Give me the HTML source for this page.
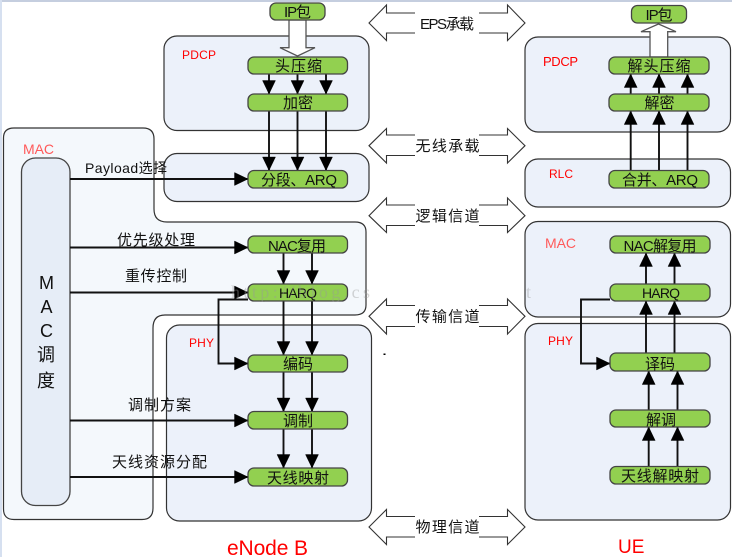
<!DOCTYPE html>
<html><head><meta charset="utf-8">
<style>
html,body{margin:0;padding:0;background:#fff;width:732px;height:557px;overflow:hidden}
svg{display:block}
text{font-family:"Liberation Sans","Noto Sans CJK SC",sans-serif;fill:#111;font-size:15px}
.c{text-anchor:middle}
.r{fill:#f00}
.red2{fill:#ff5a5a}
.panel{fill:#ecf1fa;stroke:#333;stroke-width:1.2}
.g{fill:#92d050;stroke:#444;stroke-width:1.3}
.l{stroke:#111;stroke-width:1.9;fill:none}
.h{fill:#000;stroke:#000;stroke-width:.4}
.da{fill:#fff;stroke:#333;stroke-width:1.1}
.wb{fill:#fff}
.wm{font-size:18px;fill:#999;fill-opacity:.4;font-family:"Liberation Serif",serif}
</style></head><body>
<svg width="732" height="557" viewBox="0 0 732 557" xmlns="http://www.w3.org/2000/svg">
<defs>
<marker id="a" markerUnits="userSpaceOnUse" markerWidth="15" markerHeight="15" refX="14" refY="7" orient="auto"><path class="h" d="M0.5 0.5L14 7L0.5 13.5Z"/></marker>
</defs>
<rect x="0" y="0" width="732" height="2" fill="#c5cedf"/>
<rect x="0" y="0" width="2" height="557" fill="#d6e0f0"/>

<!-- MAC container -->
<path d="M14 128H143Q154 128 154 139V209Q154 222 167 222H355Q366 222 366 232V305Q366 315 355 315H165Q153 315 153 328V508Q153 519.5 142 519.5H14Q3.5 519.5 3.5 509V138Q3.5 128 14 128Z" fill="#f4f8fc" stroke="#333" stroke-width="1.2"/>

<rect class="panel" x="164" y="36" width="205" height="94.5" rx="13"/>
<rect class="panel" x="164" y="153.5" width="205" height="48" rx="13"/>
<rect class="panel" x="166.5" y="325" width="205" height="196" rx="13"/>

<rect x="21.5" y="158" width="48.5" height="347.5" rx="14" fill="#e6edf7" stroke="#444" stroke-width="1.3"/>

<rect class="panel" x="525" y="37" width="205.5" height="95" rx="13"/>
<rect class="panel" x="525" y="159" width="205.5" height="48" rx="13"/>
<rect class="panel" x="525" y="221.5" width="205.5" height="95.5" rx="13"/>
<rect class="panel" x="525" y="323.5" width="205.5" height="196.5" rx="13"/>

<!-- double arrows -->
<path class="da" d="M369 23L386.5 5V13H507.5V5L525 23L507.5 40.5V33H386.5V40.5Z"/>
<path class="da" d="M369 145.7L386.5 128.5V135H507.5V128.5L525 145.7L507.5 163V155.5H386.5V163Z"/>
<path class="da" d="M369 215.7L386.5 198V205H507.5V198L525 215.7L507.5 232.5V225.5H386.5V232.5Z"/>
<path class="da" d="M369 316.3L386.5 299V305.5H507.5V299L525 316.3L507.5 334V326.5H386.5V334Z"/>
<path class="da" d="M369 527L386.5 509.5V516.5H507.5V509.5L525 527L507.5 544.5V537H386.5V544.5Z"/>
<rect class="wb" x="415" y="10" width="64" height="26"/>
<rect class="wb" x="415" y="132" width="64" height="26"/>
<rect class="wb" x="415" y="202" width="64" height="26"/>
<rect class="wb" x="415" y="303" width="64" height="26"/>
<rect class="wb" x="415" y="513" width="64" height="28"/>
<text class="c" x="447" y="29" textLength="54">EPS承载</text>
<text class="c" x="447.5" y="151" textLength="64">无线承载</text>
<text class="c" x="447.5" y="221" textLength="64">逻辑信道</text>
<text class="c" x="447.5" y="321.5" textLength="64">传输信道</text>
<text class="c" x="447.5" y="532" textLength="64">物理信道</text>

<!-- block arrows -->
<path d="M289 20V47.7H280L297.5 56L315 47.7H306V20Z" fill="#fff" stroke="#555" stroke-width="1.3"/>
<path d="M650 57V31.7H641L658.5 24L676 31.7H667.7V57Z" fill="#fff" stroke="#555" stroke-width="1.3"/>

<!-- connectors -->
<g>
<path class="l" marker-end="url(#a)" d="M269 74V94"/>
<path class="l" marker-end="url(#a)" d="M297.5 74V94"/>
<path class="l" marker-end="url(#a)" d="M326 74V94"/>
<path class="l" marker-end="url(#a)" d="M269 111V170.5"/>
<path class="l" marker-end="url(#a)" d="M297.5 111V170.5"/>
<path class="l" marker-end="url(#a)" d="M326 111V170.5"/>
<path class="l" marker-end="url(#a)" d="M70 179H248"/>
<path class="l" marker-end="url(#a)" d="M70 247.5H248"/>
<path class="l" marker-end="url(#a)" d="M70 292.5H248"/>
<path class="l" marker-end="url(#a)" d="M248 299.5H218.5V363.5H248"/>
<path class="l" marker-end="url(#a)" d="M283.5 253V284"/>
<path class="l" marker-end="url(#a)" d="M312 253V284"/>
<path class="l" marker-end="url(#a)" d="M283.5 301V355"/>
<path class="l" marker-end="url(#a)" d="M312 301V355"/>
<path class="l" marker-end="url(#a)" d="M283.5 372V411.5"/>
<path class="l" marker-end="url(#a)" d="M312 372V411.5"/>
<path class="l" marker-end="url(#a)" d="M283.5 429V468"/>
<path class="l" marker-end="url(#a)" d="M312 429V468"/>
<path class="l" marker-end="url(#a)" d="M70 420.5H248"/>
<path class="l" marker-end="url(#a)" d="M70 477H248"/>
<path class="l" marker-end="url(#a)" d="M630.7 94V74"/>
<path class="l" marker-end="url(#a)" d="M659 94V74"/>
<path class="l" marker-end="url(#a)" d="M687.5 94V74"/>
<path class="l" marker-end="url(#a)" d="M630.7 170.5V111"/>
<path class="l" marker-end="url(#a)" d="M659 170.5V111"/>
<path class="l" marker-end="url(#a)" d="M687.5 170.5V111"/>
<path class="l" marker-end="url(#a)" d="M646 284V253"/>
<path class="l" marker-end="url(#a)" d="M674.5 284V253"/>
<path class="l" marker-end="url(#a)" d="M646 353V301"/>
<path class="l" marker-end="url(#a)" d="M674.5 353V301"/>
<path class="l" marker-end="url(#a)" d="M648.7 410V371"/>
<path class="l" marker-end="url(#a)" d="M677.5 410V371"/>
<path class="l" marker-end="url(#a)" d="M648.7 466.5V427"/>
<path class="l" marker-end="url(#a)" d="M677.5 466.5V427"/>
<path class="l" marker-end="url(#a)" d="M610 299.5H581V363.5H610"/>
</g>

<!-- green boxes left -->
<rect class="g" x="270" y="3" width="55" height="17" rx="6"/>
<rect class="g" x="248" y="57" width="99.5" height="17" rx="6"/>
<rect class="g" x="248" y="94" width="99.5" height="17" rx="6"/>
<rect class="g" x="248" y="170.5" width="99.5" height="17.5" rx="6"/>
<rect class="g" x="248" y="236" width="99.5" height="17" rx="6"/>
<rect class="g" x="248" y="284" width="99.5" height="17" rx="6"/>
<rect class="g" x="248" y="355" width="99.5" height="17" rx="6"/>
<rect class="g" x="248" y="411.5" width="99.5" height="17.5" rx="6"/>
<rect class="g" x="248" y="468" width="99.5" height="18" rx="6"/>
<!-- green boxes right -->
<rect class="g" x="631.5" y="5.5" width="55" height="17.5" rx="6"/>
<rect class="g" x="609" y="57" width="100" height="17" rx="6"/>
<rect class="g" x="609" y="94" width="100" height="17" rx="6"/>
<rect class="g" x="609" y="170.5" width="100" height="17.5" rx="6"/>
<rect class="g" x="610" y="236" width="100" height="17" rx="6"/>
<rect class="g" x="610" y="284" width="100" height="17" rx="6"/>
<rect class="g" x="610" y="353" width="100" height="18" rx="6"/>
<rect class="g" x="610" y="410" width="100" height="17" rx="6"/>
<rect class="g" x="610" y="466.5" width="100" height="17.5" rx="6"/>

<!-- labels left -->
<text class="c" x="297.5" y="17" textLength="27">IP包</text>
<text class="c" x="298.5" y="71" textLength="47">头压缩</text>
<text class="c" x="298" y="108" textLength="30">加密</text>
<text class="c" x="299" y="185" textLength="76">分段、ARQ</text>
<text class="c" x="297" y="251" textLength="58">NAC复用</text>
<text class="c" x="298" y="298" textLength="38" style="font-size:14px">HARQ</text>
<text class="c" x="298" y="369" textLength="30">编码</text>
<text class="c" x="298" y="426" textLength="30">调制</text>
<text class="c" x="298" y="483" textLength="62">天线映射</text>
<!-- labels right -->
<text class="c" x="659" y="20" textLength="27">IP包</text>
<text class="c" x="659" y="71" textLength="63">解头压缩</text>
<text class="c" x="659.5" y="108" textLength="30">解密</text>
<text class="c" x="660" y="185" textLength="76">合并、ARQ</text>
<text class="c" x="660" y="251" textLength="73">NAC解复用</text>
<text class="c" x="661" y="298" textLength="38" style="font-size:14px">HARQ</text>
<text class="c" x="660" y="369" textLength="30">译码</text>
<text class="c" x="661" y="425" textLength="30">解调</text>
<text class="c" x="660" y="481" textLength="78">天线解映射</text>

<!-- side labels -->
<text x="85" y="173" textLength="82" style="font-size:14px">Payload选择</text>
<text x="117" y="245" textLength="78">优先级处理</text>
<text x="125" y="281" textLength="62">重传控制</text>
<text x="128" y="410" textLength="63">调制方案</text>
<text x="112" y="467" textLength="95">天线资源分配</text>

<!-- protocol labels -->
<text class="red2" x="23" y="154" textLength="31" style="font-size:14px">MAC</text>
<text class="r" x="182" y="59" style="font-size:12px" textLength="34">PDCP</text>
<text class="r" x="189" y="347" style="font-size:12px" textLength="25">PHY</text>
<text class="r" x="543" y="66" style="font-size:13px" textLength="35">PDCP</text>
<text class="r" x="549" y="178" style="font-size:12px" textLength="24">RLC</text>
<text class="red2" x="545" y="248" textLength="31" style="font-size:14px">MAC</text>
<text class="r" x="548" y="345" style="font-size:12px" textLength="25">PHY</text>

<!-- MAC scheduling text -->
<text class="c" x="46.5" y="289" style="font-size:18px">M</text>
<text class="c" x="46.5" y="313" style="font-size:18px">A</text>
<text class="c" x="46.5" y="337" style="font-size:18px">C</text>
<text class="c" x="46" y="361" style="font-size:18px">调</text>
<text class="c" x="46" y="387" style="font-size:18px">度</text>

<text x="227" y="555" style="font-size:21px;fill:#f00" textLength="81">eNode B</text>
<text x="618" y="553" style="font-size:19px;fill:#f00">UE</text>
<rect x="383.5" y="353.5" width="2" height="1.5" fill="#000"/>

<!-- watermark above everything -->
<text class="wm" x="231" y="298" textLength="139">http://blog.cs</text>
<text class="wm" x="526" y="298">t</text>
</svg>
</body></html>
